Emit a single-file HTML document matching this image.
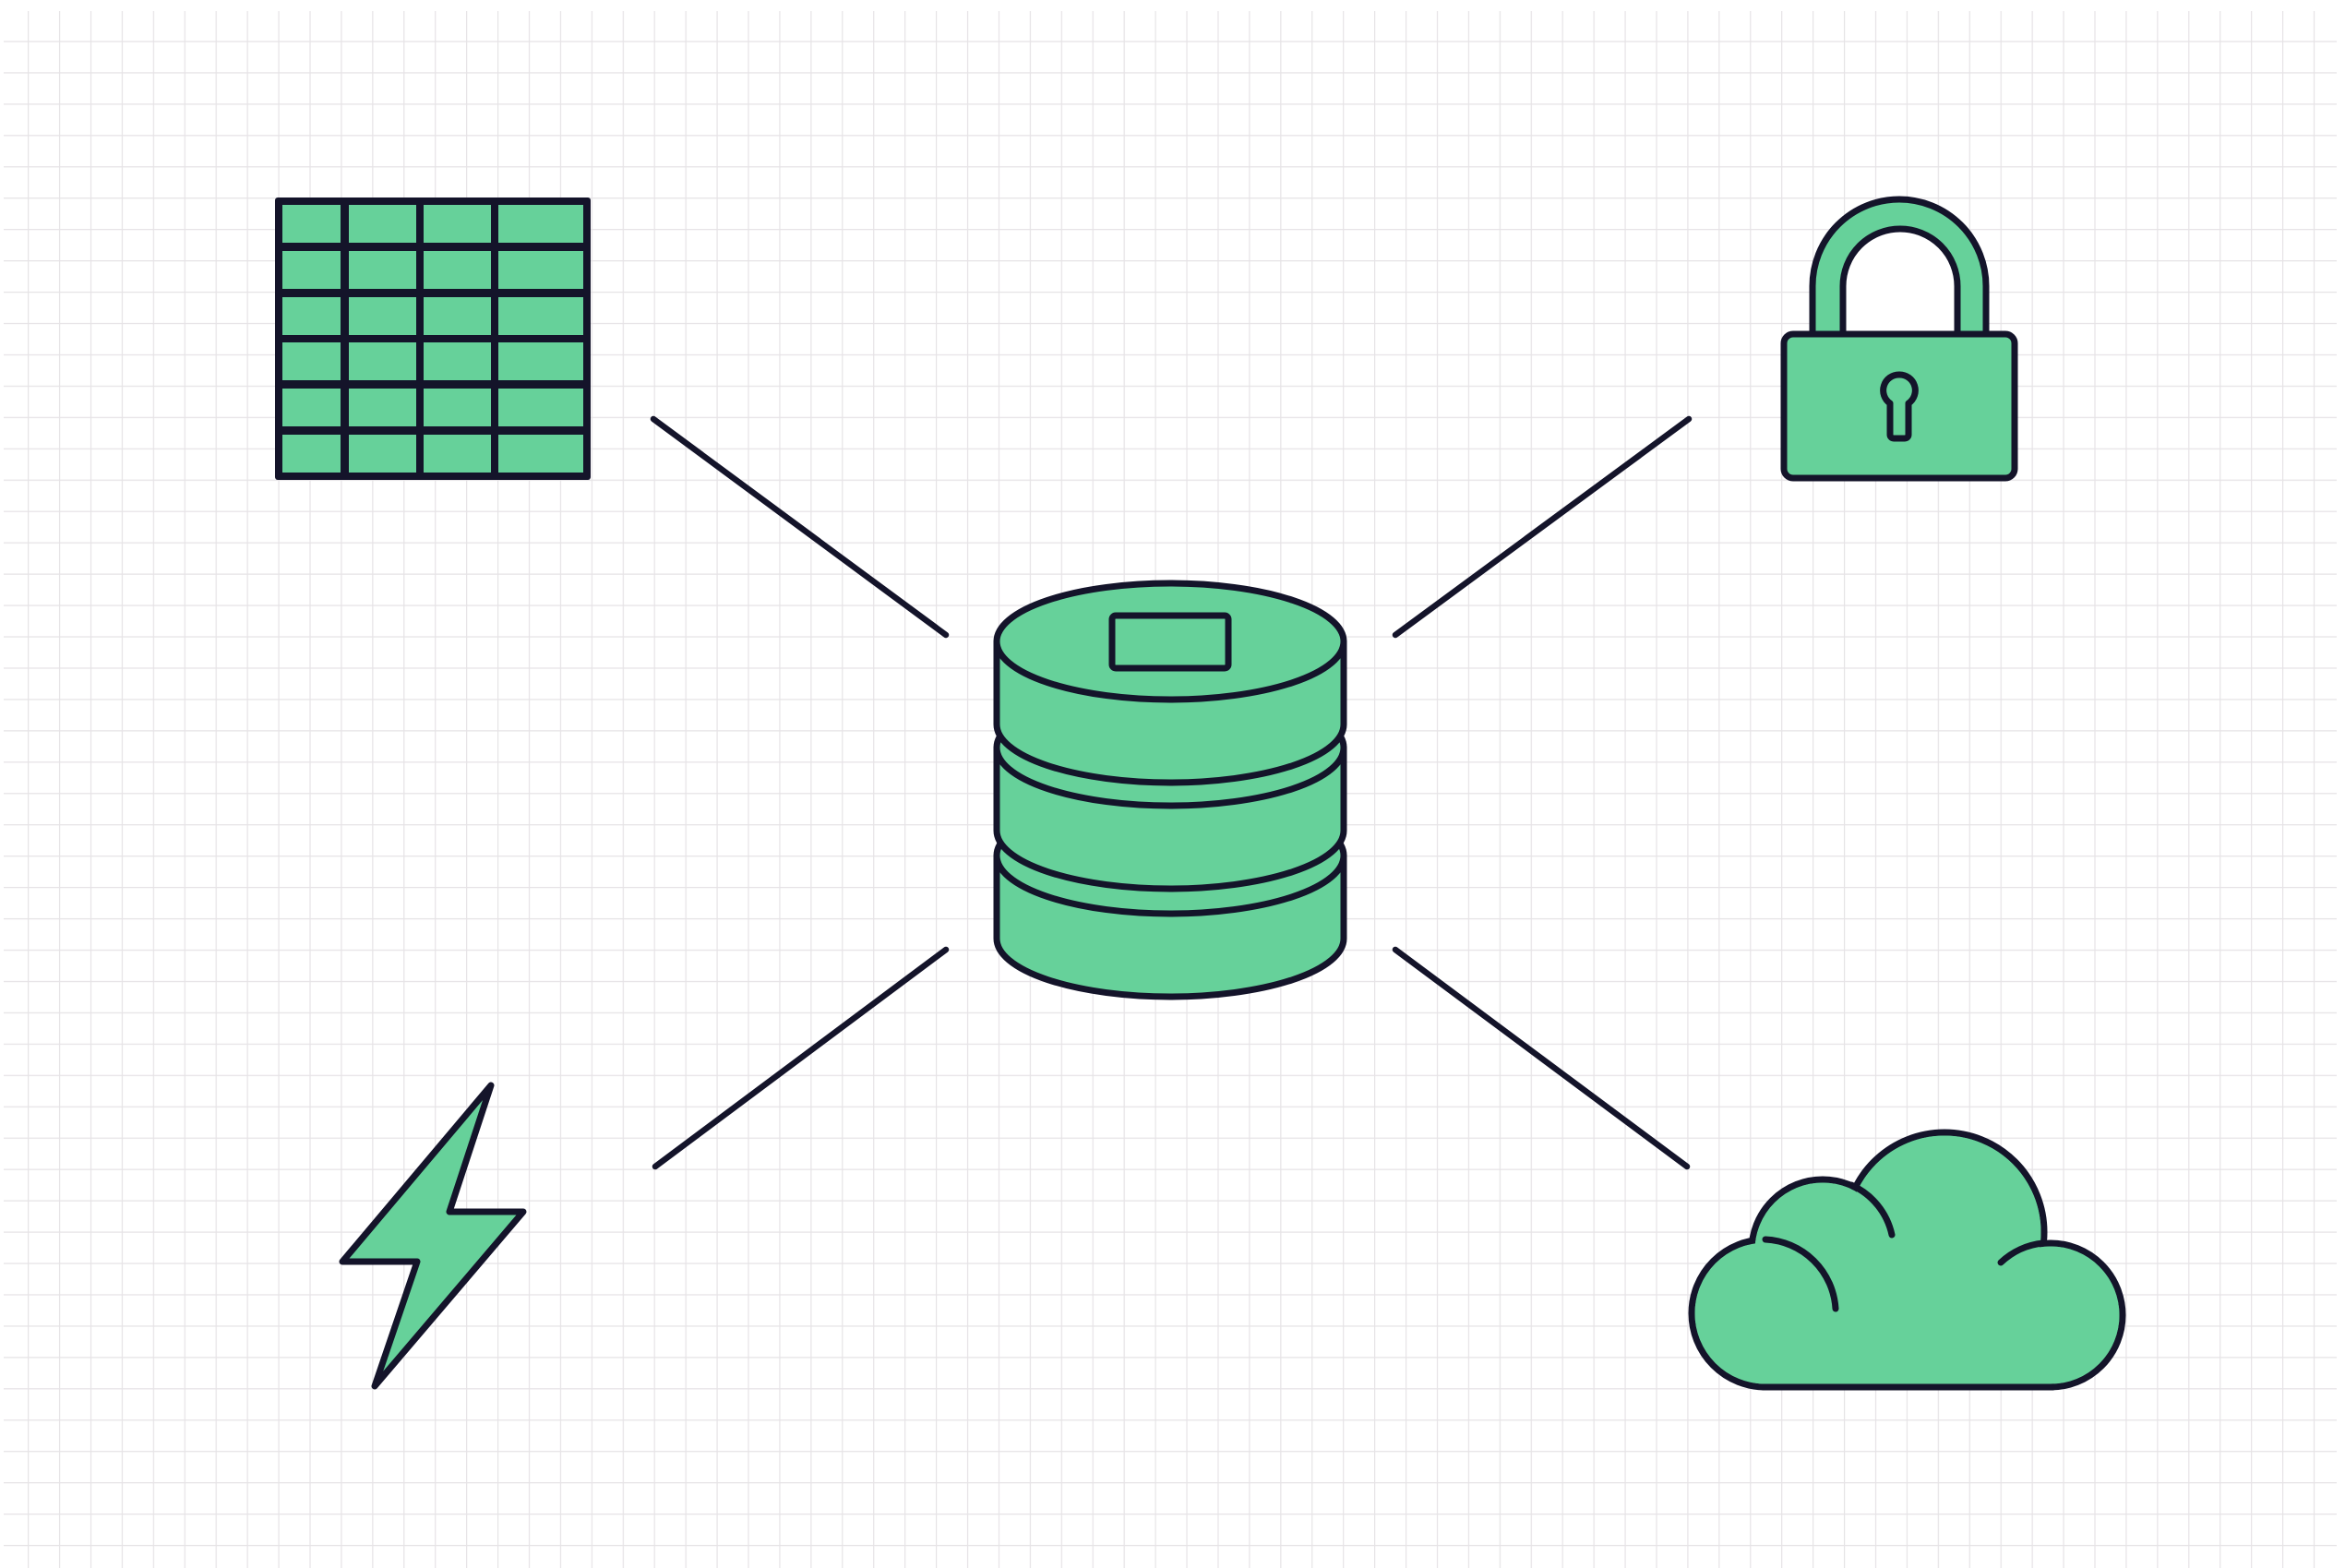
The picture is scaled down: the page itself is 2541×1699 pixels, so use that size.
<!DOCTYPE html>
<html><head><meta charset="utf-8"><style>html,body{margin:0;padding:0;background:#fff;}svg{display:block}</style></head>
<body>
<svg width="2541" height="1699" viewBox="0 0 2541 1699" xmlns="http://www.w3.org/2000/svg">
<defs>
<pattern id="g" patternUnits="userSpaceOnUse" x="-3.9" y="10.4" width="33.93" height="33.95">
<path d="M0 0V33.95M0 0H33.93" stroke="#e6e3e6" stroke-width="2.4" fill="none"/>
</pattern>
</defs>
<rect x="0" y="0" width="2541" height="1699" fill="#fff"/>
<rect x="4" y="12" width="2528" height="1687" fill="url(#g)"/>

<g stroke="#14142a" stroke-width="6.5" stroke-linecap="round" fill="none">
<line x1="708" y1="454" x2="1025" y2="688"/>
<line x1="1830" y1="454" x2="1512" y2="688"/>
<line x1="1025" y1="1029" x2="710" y2="1264"/>
<line x1="1512" y1="1029" x2="1828" y2="1264"/>
</g>

<g stroke="#14142a" stroke-width="7" fill="#66d19a" stroke-linejoin="round">
<!-- database -->
<path d="M1080 927 V1017 A188 63 0 0 0 1456 1017 V927 Z"/>
<ellipse cx="1268" cy="927" rx="188" ry="63"/>
<path d="M1080 810 V900 A188 63 0 0 0 1456 900 V810 Z"/>
<ellipse cx="1268" cy="810" rx="188" ry="63"/>
<path d="M1080 695 V785 A188 63 0 0 0 1456 785 V695 Z"/>
<ellipse cx="1268" cy="695" rx="188" ry="63"/>
<rect x="1205" y="667" width="126" height="57" rx="4"/>

<!-- lock -->
<path d="M1964 362 V310 A94 94 0 0 1 2152 310 V362 Z"/>
<path d="M1997 362 V310 A62 62 0 0 1 2121 310 V362 Z" fill="#fff"/>
<rect x="1933" y="362" width="250" height="156" rx="10"/>
<path d="M2058 406 a17 17 0 0 1 10 31 v34 a4 4 0 0 1 -4 4 h-12 a4 4 0 0 1 -4 -4 v-34 a17 17 0 0 1 10 -31 Z"/>

<!-- lightning -->
<polygon points="532,1176 487,1313 567,1313 406,1502 452,1367 371,1367"/>
</g>

<!-- table -->
<rect x="298" y="214" width="342" height="306" rx="3" fill="#14142a"/>
<g fill="#66d19a">
<rect x="306" y="222" width="63" height="41"/><rect x="378" y="222" width="73" height="41"/><rect x="459" y="222" width="73" height="41"/><rect x="540" y="222" width="92" height="41"/>
<rect x="306" y="272" width="63" height="41"/><rect x="378" y="272" width="73" height="41"/><rect x="459" y="272" width="73" height="41"/><rect x="540" y="272" width="92" height="41"/>
<rect x="306" y="322" width="63" height="41"/><rect x="378" y="322" width="73" height="41"/><rect x="459" y="322" width="73" height="41"/><rect x="540" y="322" width="92" height="41"/>
<rect x="306" y="371" width="63" height="41"/><rect x="378" y="371" width="73" height="41"/><rect x="459" y="371" width="73" height="41"/><rect x="540" y="371" width="92" height="41"/>
<rect x="306" y="421" width="63" height="41"/><rect x="378" y="421" width="73" height="41"/><rect x="459" y="421" width="73" height="41"/><rect x="540" y="421" width="92" height="41"/>
<rect x="306" y="471" width="63" height="41"/><rect x="378" y="471" width="73" height="41"/><rect x="459" y="471" width="73" height="41"/><rect x="540" y="471" width="92" height="41"/>
</g>

<!-- cloud -->
<g stroke="#14142a" stroke-width="7" fill="#66d19a">
<circle cx="1913" cy="1423" r="80"/>
<circle cx="1975" cy="1355" r="77"/>
<circle cx="2107" cy="1335" r="108"/>
<circle cx="2222" cy="1425" r="78"/>
<rect x="1913" y="1380" width="309" height="123"/>
</g>
<g fill="#66d19a">
<circle cx="1913" cy="1423" r="76.5"/>
<circle cx="1975" cy="1355" r="73.5"/>
<circle cx="2107" cy="1335" r="104.5"/>
<circle cx="2222" cy="1425" r="74.5"/>
<rect x="1913" y="1376" width="309" height="123.5"/>
</g>
<g stroke="#14142a" stroke-width="7" fill="none" stroke-linecap="round">
<path d="M1913 1343 A80 80 0 0 1 1989 1418"/>
<path d="M2006 1284 A77 77 0 0 1 2050 1338"/>
<path d="M2168 1368 A78 78 0 0 1 2214 1347"/>
</g>
</svg>
</body></html>
